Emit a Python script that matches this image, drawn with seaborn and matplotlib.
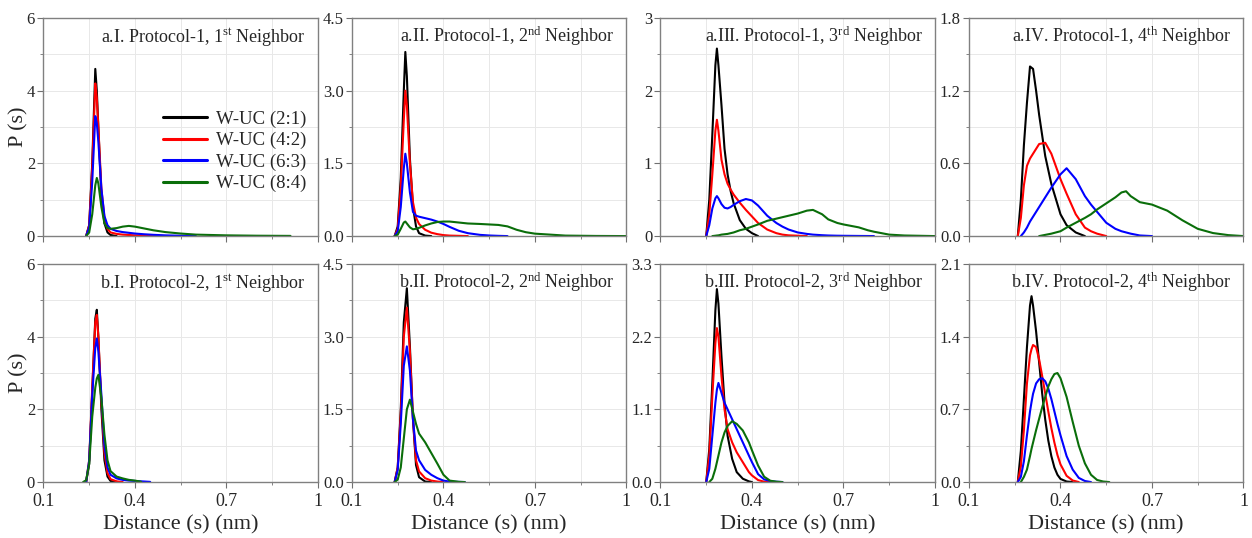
import numpy as np
import pandas as pd
import seaborn as sns
import matplotlib.pyplot as plt
from matplotlib.ticker import FixedLocator

na = np.nan

# ---- Protocol-1 (row a) ----
a1_dist = [0.24, 0.25, 0.26, 0.27, 0.275, 0.28, 0.29, 0.30, 0.31, 0.32, 0.34, 0.36, 0.38, 0.40, 0.43, 0.46, 0.50, 0.55, 0.60, 0.65, 0.70, 0.80, 0.91]
a1_21 = [0, 0.3, 2.0, 4.6, 4.0, 3.0, 1.1, 0.35, 0.1, 0.03, 0, na, na, na, na, na, na, na, na, na, na, na, na]
a1_42 = [0, 0.3, 1.9, 4.2, 3.8, 3.0, 1.3, 0.5, 0.2, 0.1, 0.06, 0.04, 0.03, 0.02, 0.015, 0.01, 0, na, na, na, na, na, na]
a1_63 = [0, 0.25, 1.5, 3.3, 3.1, 2.6, 1.3, 0.55, 0.3, 0.2, 0.14, 0.11, 0.09, 0.07, 0.05, 0.035, 0.02, 0.01, 0, na, na, na, na]
a1_84 = [0, 0.1, 0.6, 1.4, 1.6, 1.45, 0.8, 0.35, 0.22, 0.2, 0.22, 0.26, 0.28, 0.26, 0.21, 0.16, 0.11, 0.07, 0.04, 0.03, 0.02, 0.01, 0.005]

a2_dist = [0.24, 0.25, 0.26, 0.27, 0.275, 0.28, 0.29, 0.30, 0.31, 0.32, 0.34, 0.36, 0.38, 0.40, 0.42, 0.45, 0.48, 0.52, 0.55, 0.58, 0.61, 0.64, 0.67, 0.70, 0.75, 0.80, 0.90, 1.00]
a2_21 = [0, 0.2, 1.2, 3.0, 3.8, 3.3, 1.6, 0.6, 0.2, 0.06, 0.01, 0, na, na, na, na, na, na, na, na, na, na, na, na, na, na, na, na]
a2_42 = [0, 0.15, 1.0, 2.4, 3.0, 2.7, 1.5, 0.7, 0.38, 0.25, 0.13, 0.07, 0.04, 0.02, 0.01, 0.005, 0, na, na, na, na, na, na, na, na, na, na, na]
a2_63 = [0, 0.1, 0.6, 1.4, 1.7, 1.5, 0.9, 0.5, 0.42, 0.4, 0.37, 0.34, 0.3, 0.25, 0.19, 0.11, 0.06, 0.025, 0.012, 0.005, 0, na, na, na, na, na, na, na]
a2_84 = [0, 0.03, 0.15, 0.28, 0.3, 0.26, 0.18, 0.14, 0.15, 0.17, 0.22, 0.26, 0.29, 0.3, 0.3, 0.28, 0.26, 0.25, 0.24, 0.23, 0.2, 0.13, 0.08, 0.05, 0.03, 0.01, 0.003, 0]

a3_dist = [0.25, 0.26, 0.27, 0.28, 0.285, 0.29, 0.30, 0.31, 0.32, 0.33, 0.34, 0.36, 0.38, 0.40, 0.42, 0.45, 0.48, 0.50, 0.52, 0.55, 0.58, 0.60, 0.63, 0.65, 0.68, 0.70, 0.75, 0.78, 0.80, 0.85, 0.90, 1.00]
a3_21 = [0, 0.5, 1.4, 2.35, 2.58, 2.35, 1.8, 1.2, 0.85, 0.62, 0.45, 0.22, 0.1, 0.04, 0, na, na, na, na, na, na, na, na, na, na, na, na, na, na, na, na, na]
a3_42 = [0, 0.3, 0.85, 1.45, 1.6, 1.45, 1.05, 0.85, 0.72, 0.64, 0.57, 0.46, 0.36, 0.27, 0.18, 0.09, 0.04, 0.02, 0.01, 0.005, 0, na, na, na, na, na, na, na, na, na, na, na]
a3_63 = [0, 0.15, 0.38, 0.52, 0.55, 0.52, 0.44, 0.39, 0.38, 0.4, 0.43, 0.48, 0.51, 0.49, 0.42, 0.28, 0.18, 0.13, 0.09, 0.05, 0.03, 0.02, 0.012, 0.008, 0.005, 0.004, 0.002, 0.001, 0, na, na, na]
a3_84 = [na, na, 0, 0.005, 0.008, 0.01, 0.02, 0.025, 0.03, 0.04, 0.05, 0.08, 0.1, 0.13, 0.16, 0.21, 0.24, 0.26, 0.28, 0.31, 0.35, 0.36, 0.3, 0.23, 0.18, 0.16, 0.12, 0.08, 0.06, 0.02, 0.008, 0]

a4_dist = [0.26, 0.27, 0.28, 0.29, 0.30, 0.31, 0.32, 0.33, 0.35, 0.37, 0.40, 0.42, 0.45, 0.48, 0.50, 0.52, 0.55, 0.58, 0.60, 0.615, 0.63, 0.66, 0.70, 0.75, 0.80, 0.85, 0.90, 0.95, 1.00]
a4_21 = [0, 0.3, 0.75, 1.1, 1.4, 1.38, 1.2, 1.0, 0.66, 0.43, 0.18, 0.09, 0.03, 0, na, na, na, na, na, na, na, na, na, na, na, na, na, na, na]
a4_42 = [0, 0.15, 0.42, 0.58, 0.64, 0.68, 0.72, 0.76, 0.77, 0.68, 0.47, 0.35, 0.18, 0.07, 0.04, 0.02, 0, na, na, na, na, na, na, na, na, na, na, na, na]
a4_63 = [na, 0, 0.03, 0.07, 0.12, 0.16, 0.2, 0.24, 0.32, 0.4, 0.51, 0.56, 0.47, 0.33, 0.26, 0.2, 0.11, 0.06, 0.04, 0.03, 0.02, 0.005, 0, na, na, na, na, na, na]
a4_84 = [na, na, na, na, na, na, na, 0, 0.01, 0.02, 0.04, 0.07, 0.11, 0.15, 0.18, 0.22, 0.27, 0.32, 0.36, 0.37, 0.33, 0.28, 0.26, 0.21, 0.13, 0.06, 0.025, 0.008, 0]

# ---- Protocol-2 (row b) ----
b1_dist = [0.23, 0.24, 0.25, 0.26, 0.27, 0.275, 0.28, 0.29, 0.30, 0.31, 0.32, 0.34, 0.36, 0.38, 0.40, 0.42, 0.45]
b1_21 = [na, 0, 0.5, 2.5, 4.5, 4.74, 4.0, 2.0, 0.6, 0.15, 0.03, 0, na, na, na, na, na]
b1_42 = [na, 0, 0.6, 2.6, 4.4, 4.6, 4.0, 2.2, 0.8, 0.25, 0.08, 0.02, 0, na, na, na, na]
b1_63 = [na, 0, 0.6, 2.4, 3.7, 3.95, 3.6, 2.4, 1.0, 0.4, 0.2, 0.1, 0.06, 0.04, 0.03, 0.02, 0.005]
b1_84 = [0, 0.05, 0.5, 1.8, 2.6, 2.85, 2.95, 2.3, 1.3, 0.6, 0.3, 0.15, 0.1, 0.06, 0.04, 0.01, na]

b2_dist = [0.24, 0.25, 0.26, 0.27, 0.28, 0.29, 0.30, 0.31, 0.32, 0.34, 0.36, 0.38, 0.40, 0.42, 0.45, 0.47]
b2_21 = [0, 0.3, 1.5, 3.3, 4.0, 2.8, 1.3, 0.35, 0.1, 0.01, 0, na, na, na, na, na]
b2_42 = [0, 0.3, 1.4, 3.0, 3.6, 2.7, 1.3, 0.45, 0.22, 0.08, 0.03, 0.01, 0, na, na, na]
b2_63 = [0, 0.25, 1.2, 2.4, 2.8, 2.3, 1.3, 0.65, 0.45, 0.25, 0.15, 0.08, 0.03, 0.01, 0.003, 0]
b2_84 = [0, 0.05, 0.3, 0.9, 1.5, 1.7, 1.45, 1.2, 1.0, 0.82, 0.6, 0.38, 0.15, 0.03, 0.005, 0]

b3_dist = [0.25, 0.26, 0.27, 0.28, 0.285, 0.29, 0.30, 0.31, 0.32, 0.335, 0.35, 0.37, 0.39, 0.40, 0.42, 0.44, 0.46, 0.48, 0.50]
b3_21 = [0, 0.5, 1.5, 2.6, 2.92, 2.7, 1.9, 1.2, 0.7, 0.35, 0.15, 0.05, 0.01, 0, na, na, na, na, na]
b3_42 = [0, 0.4, 1.3, 2.1, 2.33, 2.2, 1.6, 1.1, 0.8, 0.6, 0.45, 0.3, 0.15, 0.1, 0.03, 0.005, 0, na, na]
b3_63 = [0, 0.2, 0.7, 1.2, 1.4, 1.5, 1.35, 1.2, 1.1, 0.95, 0.8, 0.6, 0.4, 0.3, 0.12, 0.04, 0.015, 0.005, 0]
b3_84 = [na, 0, 0.05, 0.2, 0.3, 0.4, 0.6, 0.75, 0.85, 0.92, 0.88, 0.78, 0.6, 0.48, 0.25, 0.08, 0.02, 0.005, 0]

b4_dist = [0.26, 0.27, 0.28, 0.29, 0.30, 0.305, 0.31, 0.32, 0.33, 0.34, 0.35, 0.36, 0.37, 0.38, 0.39, 0.40, 0.42, 0.44, 0.46, 0.48, 0.50, 0.52, 0.54, 0.56]
b4_21 = [0, 0.3, 0.8, 1.3, 1.7, 1.79, 1.7, 1.45, 1.15, 0.85, 0.6, 0.4, 0.25, 0.14, 0.07, 0.03, 0.005, 0, na, na, na, na, na, na]
b4_42 = [0, 0.15, 0.5, 0.95, 1.22, 1.28, 1.32, 1.3, 1.18, 1.02, 0.85, 0.68, 0.52, 0.38, 0.26, 0.17, 0.06, 0.015, 0, na, na, na, na, na]
b4_63 = [0, 0.05, 0.2, 0.45, 0.68, 0.77, 0.85, 0.95, 0.99, 1.0, 0.97, 0.9, 0.8, 0.68, 0.56, 0.45, 0.25, 0.12, 0.04, 0.01, 0, na, na, na]
b4_84 = [na, 0, 0.05, 0.12, 0.25, 0.32, 0.38, 0.5, 0.61, 0.72, 0.82, 0.92, 0.99, 1.04, 1.05, 1.0, 0.82, 0.58, 0.35, 0.18, 0.07, 0.02, 0.005, 0]

series_names = ["W-UC (2:1)", "W-UC (4:2)", "W-UC (6:3)", "W-UC (8:4)"]
colors = ["black", "#ff0000", "#0000ff", "#0a6e0a"]

titles = [
    r"a.I. Protocol-1, 1$^{\mathrm{st}}$ Neighbor",
    r"a.II. Protocol-1, 2$^{\mathrm{nd}}$ Neighbor",
    r"a.III. Protocol-1, 3$^{\mathrm{rd}}$ Neighbor",
    r"a.IV. Protocol-1, 4$^{\mathrm{th}}$ Neighbor",
    r"b.I. Protocol-2, 1$^{\mathrm{st}}$ Neighbor",
    r"b.II. Protocol-2, 2$^{\mathrm{nd}}$ Neighbor",
    r"b.III. Protocol-2, 3$^{\mathrm{rd}}$ Neighbor",
    r"b.IV. Protocol-2, 4$^{\mathrm{th}}$ Neighbor",
]
y_tops = [6, 4.5, 3, 1.8, 6, 4.5, 3.3, 2.1]
y_fmts = ["%.0f", "%.1f", "%.0f", "%.1f", "%.0f", "%.1f", "%.1f", "%.1f"]
x_ticks = [0.1, 0.4, 0.7, 1.0]
x_ticklabels = ["0.1", "0.4", "0.7", "1"]

panels = [
    (a1_dist, [a1_21, a1_42, a1_63, a1_84]),
    (a2_dist, [a2_21, a2_42, a2_63, a2_84]),
    (a3_dist, [a3_21, a3_42, a3_63, a3_84]),
    (a4_dist, [a4_21, a4_42, a4_63, a4_84]),
    (b1_dist, [b1_21, b1_42, b1_63, b1_84]),
    (b2_dist, [b2_21, b2_42, b2_63, b2_84]),
    (b3_dist, [b3_21, b3_42, b3_63, b3_84]),
    (b4_dist, [b4_21, b4_42, b4_63, b4_84]),
]

sns.set_style("white")
plt.rcParams["font.family"] = ["Liberation Serif", "DejaVu Serif"]
plt.rcParams["mathtext.fontset"] = "custom"
plt.rcParams["mathtext.rm"] = "Liberation Serif"
plt.rcParams["mathtext.it"] = "Liberation Serif:italic"

fig, axes = plt.subplots(2, 4, figsize=(12.52, 5.38), dpi=100)
fig.subplots_adjust(left=0.0347, right=0.9932, top=0.9665, bottom=0.104,
                    wspace=0.124, hspace=0.128)

for i, (ax, (dist, ys)) in enumerate(zip(axes.flat, panels)):
    # long-form table for seaborn
    frames = []
    for name, y in zip(series_names, ys):
        frames.append(pd.DataFrame({"dist": dist, "p": y, "series": name}))
    df = pd.concat(frames).dropna()

    sns.lineplot(data=df, x="dist", y="p", hue="series", hue_order=series_names,
                 palette=colors, linewidth=1.5, estimator=None, sort=True,
                 legend=(i == 0), ax=ax)

    top = y_tops[i]
    ax.set_xlim(0.1, 1.0)
    ax.set_ylim(0, top)
    ax.xaxis.set_major_locator(FixedLocator(x_ticks))
    ax.xaxis.set_minor_locator(FixedLocator([0.25, 0.55, 0.85]))
    ax.yaxis.set_major_locator(FixedLocator(np.linspace(0, top, 4)))
    ax.yaxis.set_minor_locator(FixedLocator(np.linspace(top / 6, top * 5 / 6, 3)))
    ax.set_yticklabels([y_fmts[i] % v for v in np.linspace(0, top, 4)])
    if i >= 4:
        ax.set_xticklabels(x_ticklabels)
        ax.set_xlabel("Distance (s) (nm)", fontsize=16, labelpad=4)
    else:
        ax.set_xticklabels([])
        ax.set_xlabel("")
    if i % 4 == 0:
        ax.set_ylabel("P (s)", fontsize=16, labelpad=-1)
    else:
        ax.set_ylabel("")

    ax.grid(True, which="both", color="#e8e8e8", linewidth=0.7)
    ax.set_axisbelow(True)
    ax.tick_params(which="both", bottom=True, left=True)
    ax.tick_params(which="major", direction="out", length=4, width=0.8,
                   color="#707070", labelsize=12, pad=2)
    ax.tick_params(which="minor", direction="out", length=2, width=0.6,
                   color="#707070")
    ax.tick_params(axis="x", labelsize=13, pad=4)
    for sp in ax.spines.values():
        sp.set_color("#808080")
        sp.set_linewidth(1.0)

    ax.text(0.955, 0.915, titles[i], transform=ax.transAxes, ha="right",
            va="center", fontsize=13)

    if i == 0:
        ax.legend(loc="upper left", bbox_to_anchor=(0.41, 0.61), frameon=False,
                  fontsize=13.5, handlelength=2.3, labelspacing=0.22,
                  handletextpad=0.5, borderaxespad=0)
        for ln in ax.get_legend().get_lines():
            ln.set_linewidth(2.2)

fig.savefig("out.png", dpi=100)
